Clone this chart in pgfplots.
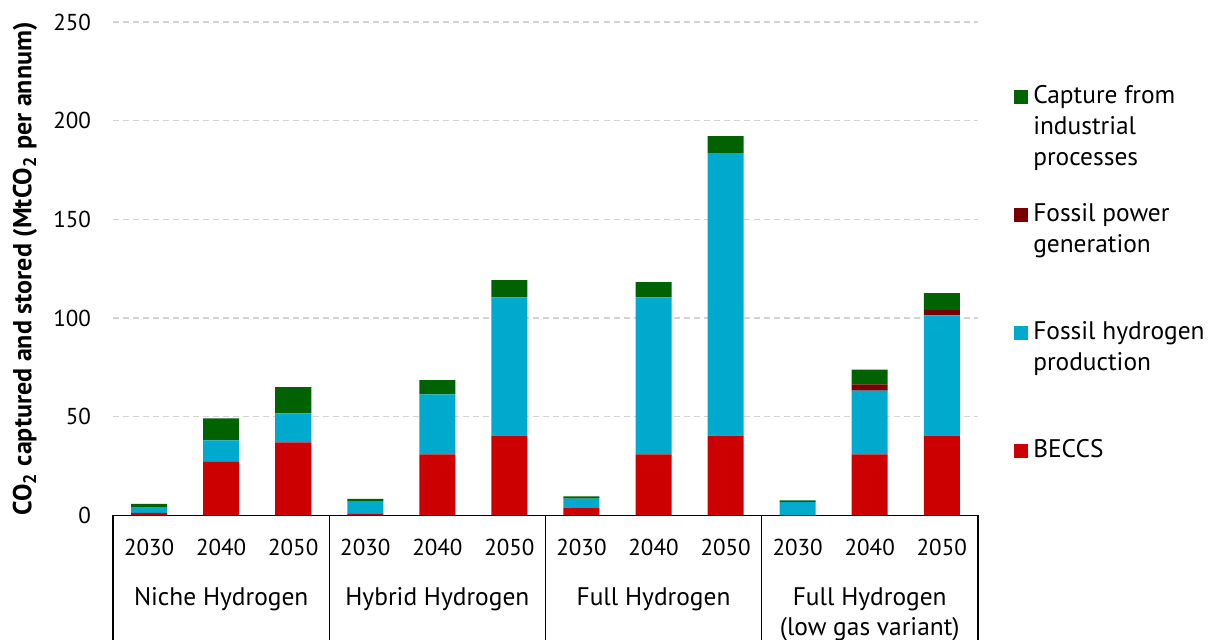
\documentclass[border=0pt]{standalone}
\usepackage{fontspec}
\setmainfont{PT Sans}
\usepackage{pgfplots}
\pgfplotsset{compat=1.18}
\usepackage{pgfplotstable}
\definecolor{cBECCS}{RGB}{204,0,0}
\definecolor{cPower}{RGB}{120,0,0}
\definecolor{cHydro}{RGB}{0,170,205}
\definecolor{cInd}{RGB}{0,98,0}
\definecolor{cGrid}{RGB}{210,210,210}
\pgfplotstableread{
x beccs hydro power ind
0 1.3 2.7 0 1.9
1 27.4 10.6 0 11.2
2 37.0 14.7 0 13.3
3 0.8 6.4 0 1.2
4 31.0 30.4 0 7.1
5 40.5 70.0 0 8.7
6 3.7 4.8 0 1.1
7 31.0 79.5 0 7.7
8 40.5 143.1 0 8.6
9 0.0 6.8 0 0.8
10 31.0 32.2 3.2 7.5
11 40.5 60.9 2.6 8.6
}\datatable
\begin{document}
\begin{tikzpicture}
\begin{axis}[
  at={(0,0)}, anchor=south west,
  scale only axis, width=432pt, height=246.5pt,
  xmin=-0.5, xmax=11.5, ymin=0, ymax=250,
  ybar stacked, bar width=18pt,
  axis line style={draw=none},
  major tick length=0pt,
  ytick={0,50,100,150,200,250},
  xtick={0,...,11},
  xticklabels={2030,2040,2050,2030,2040,2050,2030,2040,2050,2030,2040,2050},
  /pgf/number format/assume math mode=true,
  tick label style={font=\fontsize{11.5}{14}\selectfont},
  yticklabel style={anchor=east, xshift=-7.5pt},
  xticklabel style={yshift=-8.5pt},
  ymajorgrids, grid style={cGrid, dash pattern=on 3pt off 2pt, line width=0.6pt},
  ylabel={\bfseries CO\textsubscript{2} captured and stored (MtCO\textsubscript{2} per annum)},
  every axis y label/.style={at={(axis description cs:0,0.5)}, rotate=90, anchor=center, yshift=44pt, font=\fontsize{13}{15}\selectfont},
  clip=false,
  legend cell align=left,
  reverse legend,
  legend image code/.code={\fill[#1] (0pt,0pt) rectangle (7pt,7pt);},
  legend style={draw=none, fill=none, at={(axis description cs:1,1)}, anchor=north west, xshift=15pt, yshift=-27.5pt, row sep=0pt, column sep=0.5pt, cells={anchor=base west}, nodes={text depth=46pt}, font=\fontsize{12.7}{15.5}\selectfont},
]
\addplot[fill=cBECCS, draw=none] table[x=x, y=beccs] {\datatable};
\addlegendentry{\parbox[t]{100pt}{BECCS}}
\addplot[fill=cHydro, draw=none] table[x=x, y=hydro] {\datatable};
\addlegendentry{\parbox[t]{100pt}{Fossil hydrogen\newline production}}
\addplot[fill=cPower, draw=none] table[x=x, y=power] {\datatable};
\addlegendentry{\parbox[t]{100pt}{Fossil power\newline generation}}
\addplot[fill=cInd, draw=none] table[x=x, y=ind] {\datatable};
\addlegendentry{\parbox[t]{100pt}{Capture from\newline industrial\newline processes}}
\draw[black, line width=0.7pt] (axis cs:-0.5,0) -- (axis cs:11.5,0);
\draw[black, line width=0.7pt] (axis cs:-0.5,0) -- ([yshift=-62pt]axis cs:-0.5,0);
\draw[black, line width=0.7pt] (axis cs:2.5,0) -- ([yshift=-62pt]axis cs:2.5,0);
\draw[black, line width=0.7pt] (axis cs:5.5,0) -- ([yshift=-62pt]axis cs:5.5,0);
\draw[black, line width=0.7pt] (axis cs:8.5,0) -- ([yshift=-62pt]axis cs:8.5,0);
\draw[black, line width=0.7pt] (axis cs:11.5,0) -- ([yshift=-62pt]axis cs:11.5,0);
\node[anchor=base, font=\fontsize{12.7}{15.5}\selectfont] at ([yshift=-45pt]axis cs:1,0) {Niche Hydrogen};
\node[anchor=base, font=\fontsize{12.7}{15.5}\selectfont] at ([yshift=-45pt]axis cs:4,0) {Hybrid Hydrogen};
\node[anchor=base, font=\fontsize{12.7}{15.5}\selectfont] at ([yshift=-45pt]axis cs:7,0) {Full Hydrogen};
\node[anchor=base, font=\fontsize{12.7}{15.5}\selectfont] at ([yshift=-45pt]axis cs:10,0) {Full Hydrogen};
\node[anchor=base, font=\fontsize{12.7}{15.5}\selectfont] at ([yshift=-60pt]axis cs:10,0) {(low gas variant)};
\end{axis}
\pgfresetboundingbox
\path (-56.5pt,-62pt) rectangle (548.5pt,257.5pt);
\end{tikzpicture}
\end{document}
